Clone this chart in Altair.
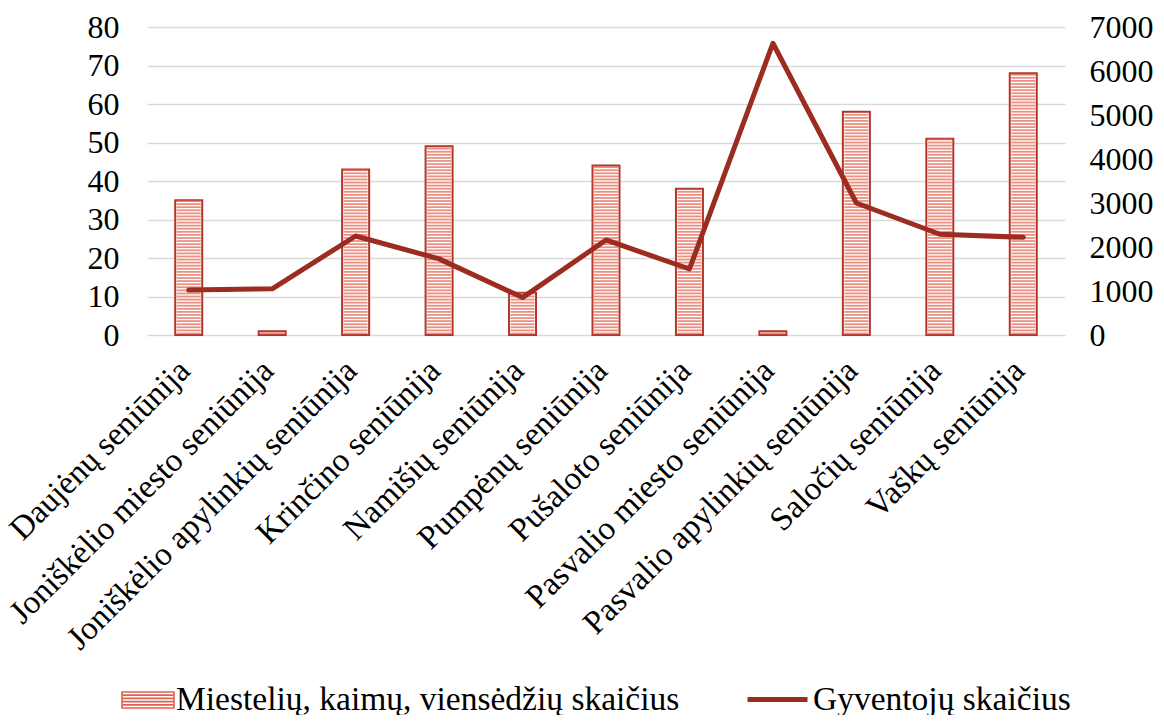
import altair as alt
import pandas as pd

categories = [
    "Daujėnų seniūnija",
    "Joniškėlio miesto seniūnija",
    "Joniškėlio apylinkių seniūnija",
    "Krinčino seniūnija",
    "Namišių seniūnija",
    "Pumpėnų seniūnija",
    "Pušaloto seniūnija",
    "Pasvalio miesto seniūnija",
    "Pasvalio apylinkių seniūnija",
    "Saločių seniūnija",
    "Vaškų seniūnija",
]
settlements = [35, 1, 43, 49, 11, 44, 38, 1, 58, 51, 68]
population = [1020, 1050, 2250, 1730, 850, 2160, 1500, 6630, 3000, 2290, 2220]

bar_label = "Miestelių, kaimų, viensėdžių skaičius"
line_label = "Gyventojų skaičius"

BORDER = "#B3362A"
STRIPE = "#E0614F"
LINE = "#9C2B20"
FONT = "Liberation Serif"

df = pd.DataFrame({
    "cat": categories,
    "count": settlements,
    "pop": population,
    "bar_series": [bar_label] * len(categories),
    "line_series": [line_label] * len(categories),
})

x = alt.X(
    "cat:N",
    sort=categories,
    title=None,
    scale=alt.Scale(paddingInner=0, paddingOuter=0),
    axis=alt.Axis(
        labelAngle=-45,
        labelAlign="right",
        labelBaseline="middle",
        labelPadding=30,
        labelOffset=-4,
        labelLimit=600,
        labelFontSize=33,
        ticks=False,
        domain=False,
        grid=False,
    ),
)

yscale = alt.Scale(domain=[0, 80])
yaxis = alt.Axis(
    values=list(range(0, 81, 10)),
    ticks=False,
    domain=False,
    labelPadding=28,
    gridColor="#D9D9D9",
    gridWidth=1.5,
)

bars = alt.Chart(df).mark_bar(size=27, stroke=BORDER, strokeWidth=2).encode(
    x=x,
    y=alt.Y("count:Q", scale=yscale, title=None, axis=yaxis),
    fill=alt.Fill(
        "bar_series:N",
        scale=alt.Scale(range=["#FFFFFF"]),
        legend=alt.Legend(
            title=None,
            orient="none",
            legendX=-26,
            legendY=646,
            symbolType="M-1,-0.31H1V0.31H-1Z M-1,-0.186H1 M-1,-0.062H1 M-1,0.062H1 M-1,0.186H1",
            symbolSize=2700,
            symbolStrokeColor=STRIPE,
            symbolStrokeWidth=1.6,
            labelOffset=1,
            padding=0,
        ),
    ),
)

stripes = (
    alt.Chart(df)
    .transform_calculate(s="sequence(0.4, datum.count, 0.8)")
    .transform_flatten(["s"])
    .mark_tick(orient="horizontal", size=24, thickness=1.8, color=STRIPE)
    .encode(x=x, y=alt.Y("s:Q", scale=yscale, title=None, axis=yaxis))
)

line = alt.Chart(df).mark_line(strokeWidth=5, strokeCap="round", strokeJoin="round").encode(
    x=x,
    y=alt.Y(
        "pop:Q",
        scale=alt.Scale(domain=[0, 7000]),
        title=None,
        axis=alt.Axis(
            orient="right",
            values=list(range(0, 7001, 1000)),
            format="d",
            ticks=False,
            domain=False,
            grid=False,
            labelPadding=24,
        ),
    ),
    stroke=alt.Stroke(
        "line_series:N",
        scale=alt.Scale(range=[LINE]),
        legend=alt.Legend(
            title=None,
            orient="none",
            legendX=598,
            legendY=640,
            symbolType="stroke",
            symbolSize=3600,
            symbolStrokeWidth=5,
            labelOffset=3,
            padding=0,
        ),
    ),
)

chart = (
    alt.layer(alt.layer(bars, stripes), line)
    .resolve_scale(y="independent")
    .properties(
        width=918,
        height=308,
        background="white",
        autosize=alt.AutoSizeParams(type="none"),
        padding={"left": 139, "right": 91, "top": 19, "bottom": 380},
    )
    .configure_view(stroke=None)
    .configure_axis(labelFont=FONT, labelFontSize=32, labelColor="black")
    .configure_legend(labelFont=FONT, labelFontSize=33.5, labelColor="black", labelLimit=0)
)

chart.save("out.html", embed_options={"renderer": "svg", "actions": False})
